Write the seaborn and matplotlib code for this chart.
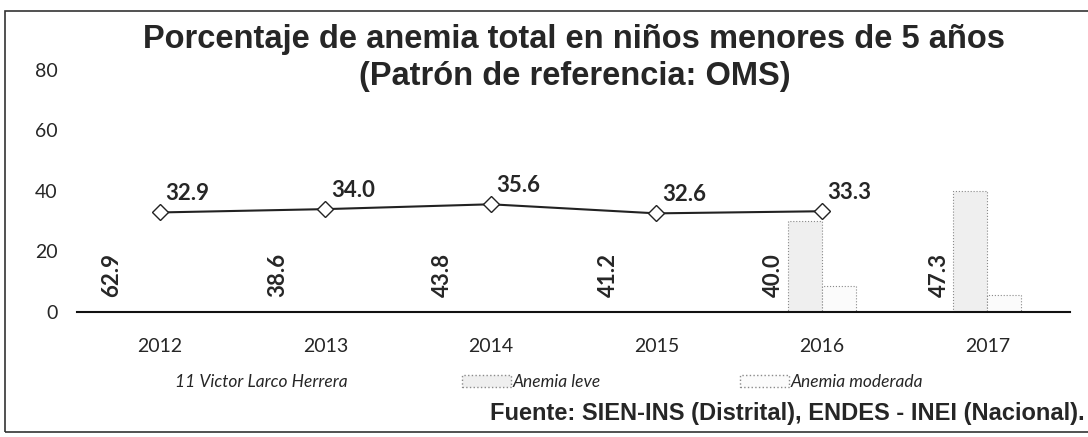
import numpy as np
import pandas as pd
import matplotlib
matplotlib.use('Agg')
import matplotlib.pyplot as plt
from matplotlib.patches import Patch, Rectangle
import seaborn as sns

# data
years = ['2012', '2013', '2014', '2015', '2016', '2017']
victor_larco = [32.9, 34.0, 35.6, 32.6, 33.3]          # 2012-2016
anemia_leve = [np.nan, np.nan, np.nan, np.nan, 30.0, 40.0]
anemia_moderada = [np.nan, np.nan, np.nan, np.nan, 8.5, 5.5]
total_labels = [62.9, 38.6, 43.8, 41.2, 40.0, 47.3]

sns.set_theme(style='white')
plt.rcParams['font.family'] = ['Lato', 'DejaVu Sans']

bars = pd.DataFrame({
    'year': years * 2,
    'value': anemia_leve + anemia_moderada,
    'tipo': ['Anemia leve'] * 6 + ['Anemia moderada'] * 6,
})

fig = plt.figure(figsize=(10.88, 4.37), dpi=100)
ax = fig.add_axes([0.0708, 0.286, 0.9127, 0.554])

sns.barplot(data=bars, x='year', y='value', hue='tipo', width=0.41,
            palette=['#efefef', '#fbfbfb'], edgecolor='#8a8a8a',
            linewidth=0.8, linestyle=':', legend=False, ax=ax)

pos = np.arange(len(victor_larco))
sns.lineplot(x=pos, y=victor_larco, color='#222222', linewidth=1.5,
             marker='D', markersize=8, markerfacecolor='white',
             markeredgecolor='#222222', markeredgewidth=1.0, ax=ax)

for x, v in zip(pos, victor_larco):
    ax.annotate(f'{v:.1f}', (x, v), xytext=(4, 6), textcoords='offset points',
                fontsize=16, fontweight='bold', ha='left', va='bottom')

for i, v in enumerate(total_labels):
    ax.text(i - 0.29, 5, f'{v:.1f}', rotation=90, ha='center', va='bottom',
            fontsize=16, fontweight='bold')

ax.set_ylim(0, 80)
ax.set_xlim(-0.5, 5.5)
ax.set_yticks([0, 20, 40, 60, 80])
ax.set_xlabel('')
ax.set_ylabel('')
ax.tick_params(axis='y', length=0, pad=14, labelsize=14)
ax.tick_params(axis='x', length=0, pad=19, labelsize=14)
for side in ['top', 'right', 'left']:
    ax.spines[side].set_visible(False)
ax.spines['bottom'].set_color('#111111')
ax.spines['bottom'].set_linewidth(1.5)

fig.text(0.528, 0.945, 'Porcentaje de anemia total en niños menores de 5 años\n(Patrón de referencia: OMS)',
         ha='center', va='top', fontsize=23.5, fontweight='bold',
         family='Liberation Sans', linespacing=1.25)

# legend entries placed one by one to match the spacing of the reference
leg_font = {'style': 'italic', 'size': 12.5}
fig.legend([Patch(facecolor='none', edgecolor='none')], ['11 Victor Larco Herrera'],
           loc='center left', bbox_to_anchor=(175 / 1088, 0.126), frameon=False,
           handlelength=0, handletextpad=0, borderpad=0, borderaxespad=0, prop=leg_font)
fig.legend([Patch(facecolor='#efefef', edgecolor='#8a8a8a', linestyle=':')], ['Anemia leve'],
           loc='center left', bbox_to_anchor=(462 / 1088, 0.126), frameon=False,
           handlelength=2.8, handletextpad=0.1, borderpad=0, borderaxespad=0, prop=leg_font)
fig.legend([Patch(facecolor='#fbfbfb', edgecolor='#8a8a8a', linestyle=':')], ['Anemia moderada'],
           loc='center left', bbox_to_anchor=(740 / 1088, 0.126), frameon=False,
           handlelength=2.8, handletextpad=0.1, borderpad=0, borderaxespad=0, prop=leg_font)

fig.text(0.997, 0.053, 'Fuente: SIEN-INS (Distrital), ENDES - INEI (Nacional).',
         ha='right', va='center', fontsize=17, fontweight='bold', family='Liberation Sans')

fig.patches.append(Rectangle((0.005, 0.012), 1.2, 0.962, transform=fig.transFigure,
                             fill=False, edgecolor='#333333', linewidth=1.2))

fig.savefig('out.png', dpi=100)
